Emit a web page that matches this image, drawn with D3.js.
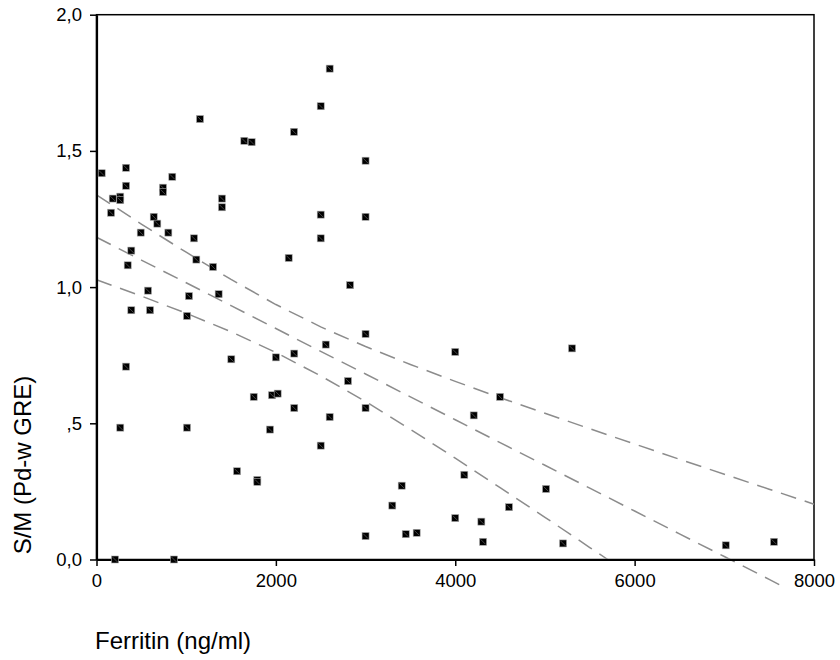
<!DOCTYPE html>
<meta charset="utf-8">
<title>Ferritin vs S/M</title>
<style>
body { margin: 0; background: #fff; }
text { font-family: "Liberation Sans", Arial, sans-serif; fill: #000; }
</style>
<body>
<script src="https://cdn.jsdelivr.net/npm/d3@7"></script>
<script>
// scatter points
var ferritin = [58, 181, 265, 265, 162, 329, 329, 388, 348, 493, 638, 678, 741, 741, 845, 801,
  1154, 1087, 1113, 1299, 1399, 1399, 1648, 1730, 2143, 2202, 2500, 2600, 2500, 2500,
  574, 1031, 1362, 388, 597, 1009, 329, 265, 1009, 1503, 2000, 2205, 2556, 1753, 1957,
  2020, 2205, 1934, 2600, 2500, 1567, 1793, 1793, 206, 864, 3000, 3000, 2827, 3000,
  4000, 5302, 2804, 4499, 3000, 4206, 4101, 3403, 3298, 5012, 4599, 4000, 4291, 3000,
  3448, 3570, 4310, 5202, 7016, 7554];
var sm = [1.418, 1.325, 1.332, 1.319, 1.273, 1.438, 1.372, 1.134, 1.080, 1.200, 1.258, 1.233,
  1.365, 1.349, 1.405, 1.200, 1.617, 1.179, 1.101, 1.074, 1.325, 1.293, 1.537, 1.532,
  1.107, 1.570, 1.664, 1.802, 1.266, 1.179, 0.987, 0.967, 0.974, 0.915, 0.915, 0.894,
  0.708, 0.484, 0.484, 0.735, 0.742, 0.756, 0.789, 0.597, 0.603, 0.609, 0.556, 0.477,
  0.523, 0.418, 0.324, 0.292, 0.285, 0, 0, 1.464, 1.258, 1.007, 0.828, 0.762, 0.775,
  0.655, 0.597, 0.556, 0.529, 0.311, 0.271, 0.198, 0.259, 0.192, 0.152, 0.139, 0.086,
  0.093, 0.098, 0.065, 0.059, 0.052, 0.065];

// fit line and 95% band, read at sample positions
var fitX = [0, 500, 1000, 1500, 2000, 2500, 3000, 3500, 4000, 4500, 5000, 5500, 6000, 6500, 7000, 7500, 7700];
var fitY = [1.183, 1.099, 1.016, 0.932, 0.848, 0.764, 0.681, 0.597, 0.513, 0.429, 0.346, 0.262, 0.178, 0.094, 0.011, -0.073, -0.107];
var upperX = [0, 500, 1000, 1500, 2000, 2500, 3000, 3500, 4000, 4500, 5000, 5500, 6000, 6500, 7000, 7500, 8000];
var upperY = [1.339, 1.231, 1.128, 1.028, 0.936, 0.854, 0.782, 0.716, 0.654, 0.594, 0.537, 0.480, 0.424, 0.368, 0.313, 0.258, 0.203];
var lowerX = [0, 500, 1000, 1500, 2000, 2500, 3000, 3500, 4000, 4500, 5000, 5500, 5700];
var lowerY = [1.027, 0.967, 0.904, 0.836, 0.760, 0.674, 0.580, 0.478, 0.372, 0.264, 0.155, 0.044, 0.0];

var xTicks = [0, 2000, 4000, 6000, 8000];
var yTicks = [0, 0.5, 1.0, 1.5, 2.0];
var yTickLabels = ["0,0", ",5", "1,0", "1,5", "2,0"];

var w = 840, h = 660;
var pLeft = 96.5, pRight = 814, pTop = 14.7, pBottom = 559.5;

var svg = d3.select("body").append("svg")
    .attr("width", w)
    .attr("height", h);

var x = d3.scaleLinear().domain([0, 8000]).range([pLeft, pRight]);
var y = d3.scaleLinear().domain([0, 2]).range([pBottom, pTop]);

// frame
svg.append("rect")
    .attr("x", pLeft).attr("y", pTop)
    .attr("width", pRight - pLeft).attr("height", pBottom - pTop)
    .attr("fill", "none").attr("stroke", "#000").attr("stroke-width", 1.5);

// dashed lines
var line = d3.line().x(function(d) { return x(d[0]); }).y(function(d) { return y(d[1]); });
[[fitX, fitY], [upperX, upperY], [lowerX, lowerY]].forEach(function(s) {
  svg.append("path")
      .attr("d", line(d3.zip(s[0], s[1])))
      .attr("fill", "none")
      .attr("stroke", "#8c8c8c")
      .attr("stroke-width", 1.5)
      .attr("stroke-dasharray", "16,9");
});

// axes
var xAxis = d3.axisBottom(x).tickValues(xTicks).tickSize(6.5).tickSizeOuter(0).tickPadding(8)
    .tickFormat(d3.format("d"));
var yAxis = d3.axisLeft(y).tickValues(yTicks).tickSize(6.5).tickSizeOuter(0).tickPadding(8)
    .tickFormat(function(d, i) { return yTickLabels[i]; });

var gx = svg.append("g").attr("transform", "translate(0," + pBottom + ")").call(xAxis);
var gy = svg.append("g").attr("transform", "translate(" + pLeft + ",0)").call(yAxis);
[gx, gy].forEach(function(g) {
  g.select(".domain").attr("stroke", "#000").attr("stroke-width", 2.2);
  g.selectAll(".tick line").attr("stroke", "#000").attr("stroke-width", 1.5);
  g.selectAll(".tick text")
      .attr("font-family", "'Liberation Sans', Arial, sans-serif")
      .attr("font-size", 18.5)
      .attr("fill", "#000");
});

// points
var pts = svg.append("g").selectAll("g")
    .data(d3.zip(ferritin, sm))
  .enter().append("g")
    .attr("transform", function(d) { return "translate(" + x(d[0]) + "," + y(d[1]) + ")"; });
pts.append("rect")
    .attr("x", -3.5).attr("y", -3.5)
    .attr("width", 7).attr("height", 7)
    .attr("fill", "#000")
    .attr("stroke", "#aaa")
    .attr("stroke-width", 0.6);
pts.append("line")
    .attr("x1", -2.5).attr("y1", -2.5).attr("x2", 2.5).attr("y2", 2.5)
    .attr("stroke", "#777").attr("stroke-width", 0.6);

// axis titles
svg.append("text")
    .attr("x", 95).attr("y", 649)
    .attr("font-size", 24)
    .text("Ferritin (ng/ml)");

svg.append("text")
    .attr("transform", "translate(31,465)rotate(-90)")
    .attr("text-anchor", "middle")
    .attr("font-size", 24)
    .text("S/M (Pd-w GRE)");
</script>
</body>
